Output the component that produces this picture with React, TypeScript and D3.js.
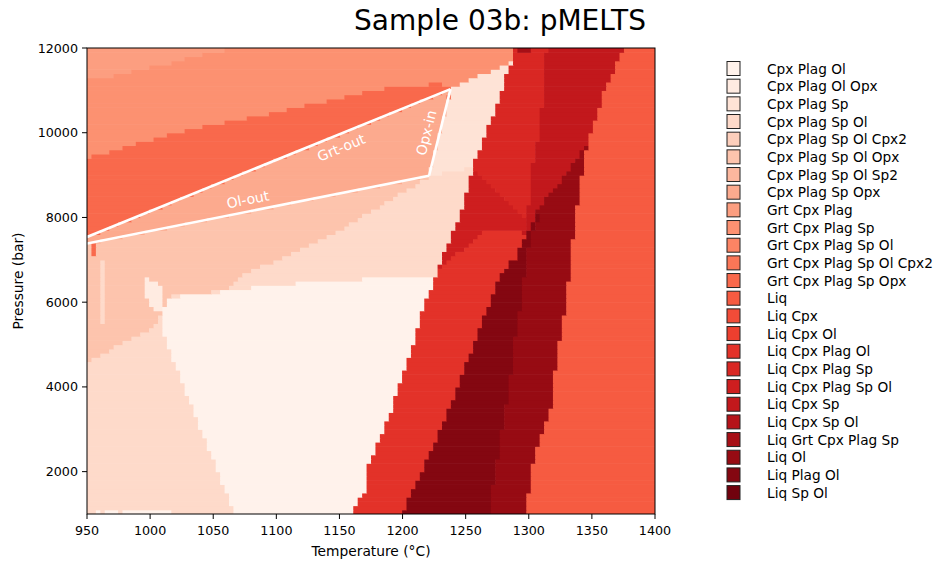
import React, { useMemo } from "react";
import * as d3 from "d3";

// ---------- data ----------
const PHASES = [
  "Cpx Plag Ol", "Cpx Plag Ol Opx", "Cpx Plag Sp", "Cpx Plag Sp Ol", "Cpx Plag Sp Ol Cpx2",
  "Cpx Plag Sp Ol Opx", "Cpx Plag Sp Ol Sp2", "Cpx Plag Sp Opx", "Grt Cpx Plag", "Grt Cpx Plag Sp",
  "Grt Cpx Plag Sp Ol", "Grt Cpx Plag Sp Ol Cpx2", "Grt Cpx Plag Sp Opx", "Liq", "Liq Cpx",
  "Liq Cpx Ol", "Liq Cpx Plag Ol", "Liq Cpx Plag Sp", "Liq Cpx Plag Sp Ol", "Liq Cpx Sp",
  "Liq Cpx Sp Ol", "Liq Grt Cpx Plag Sp", "Liq Ol", "Liq Plag Ol", "Liq Sp Ol",
];

const T_RANGE = [950, 1400];
const P_RANGE = [1000, 12000];
const T_CELLS = 128;
const P_CELL = 100;

const X_TICKS = [950, 1000, 1050, 1100, 1150, 1200, 1250, 1300, 1350, 1400];
const Y_TICKS = [2000, 4000, 6000, 8000, 10000, 12000];

// Phase-field outlines in (T °C, P bar)
const F_BACKGROUND = [[950, 1000], [1400, 1000], [1400, 12000], [950, 12000]];
const F_CPX_PLAG_SP = [[1239, 11056], [1221, 8985], [1300, 9455], [1300, 12000], [1239, 12000]];
const F_GRT_CPX_PLAG_SP = [[950, 12000], [1289, 12000], [1287, 11717], [1277, 11575], [1267, 11433], [1256, 11315], [1245, 11174], [1239, 11056], [1230, 11174], [1194, 11080], [1177, 11009], [1166, 10938], [1150, 10820], [1120, 10631], [1096, 10466], [1071, 10324], [1036, 10112], [1024, 10017], [1011, 9923], [999, 9828], [985, 9710], [960, 9498], [950, 9427]];
const F_GRT_CPX_PLAG = [[950, 12000], [1071, 12000], [1061, 11953], [1037, 11835], [1016, 11646], [992, 11504], [968, 11315], [950, 11245]];
const F_GRT_CPX_PLAG_SP_OPX = [[950, 9427], [960, 9498], [985, 9710], [999, 9828], [1011, 9923], [1024, 10017], [1036, 10112], [1071, 10324], [1096, 10466], [1120, 10631], [1150, 10820], [1166, 10938], [1177, 11009], [1194, 11080], [1230, 11174], [1239, 11056], [1221, 8985], [950, 7385]];
const F_CPX_PLAG_SP_OPX = [[950, 7540], [1238, 11030], [1221, 8985], [950, 7385]];
const F_CPX_PLAG_SP_OL_OPX = [[950, 7385], [1221, 8985], [1220, 8955], [1150, 7704], [1097, 6949], [1077, 6712], [1061, 6290], [1016, 6150], [1008, 5697], [1008, 5532], [998, 5343], [986, 5178], [968, 4871], [950, 4588]];
const F_STREAK = [[960, 5532], [963.5, 5532], [963.5, 7000], [960, 7000]];
const F_SPECK = [[953, 7100], [957, 7100], [957, 7380], [953, 7380]];
const F_CPX_PLAG_OL = [[1008, 5800], [1013, 6000], [1017, 6100], [1037, 6217], [1061, 6264], [1087, 6382], [1116, 6453], [1166, 6547], [1227, 6642], [1240, 6642], [1240, 1000], [1067, 1000], [1009, 5343]];
const F_OL_BITS_A = [[957, 1000], [960, 1000], [960, 1100], [957, 1100]];
const F_OL_BITS_B = [[963.5, 1000], [975, 1000], [975, 1100], [963.5, 1100]];
const F_OL_BITS_C = [[978, 1000], [1017, 1000], [1017, 1100], [978, 1100]];
const F_CPX_PLAG_OL_OPX = [[996, 6571], [1008, 6453], [1009, 6052], [1008, 5815], [998, 5886]];
const F_LIQ_CPX_PLAG_OL = [[1160, 1000], [1166, 1400], [1170, 1500], [1170, 1968], [1177, 2463], [1185, 3006], [1192, 3526], [1199, 4234], [1206, 4753], [1212, 5414], [1219, 6122], [1227, 6642], [1230, 6949], [1234, 7232], [1265, 7680], [1310, 7680], [1310, 1000]];
const F_LIQ_CPX_SP = [[1290, 12000], [1400, 12000], [1400, 7600], [1296, 7600]];
const F_LIQ_PLAG_OL = [[1200, 1000], [1204, 1378], [1212, 1802], [1219, 2275], [1227, 2794], [1234, 3290], [1242, 3856], [1248, 4399], [1255, 4871], [1261, 5414], [1268, 5886], [1273, 6358], [1280, 6760], [1287, 6996], [1291, 7090], [1295, 7468], [1299, 7633], [1303, 7869], [1307, 8058], [1310, 8129], [1330, 8129], [1330, 1000]];
const F_LIQ_OL = [[1269, 1000], [1272, 1802], [1276, 2440], [1280, 3219], [1284, 3856], [1287, 4635], [1290, 5343], [1295, 6122], [1297, 6878], [1301, 7421], [1305, 7869], [1308, 8000], [1306, 8176], [1314, 8483], [1325, 8813], [1335, 9285], [1346, 9757], [1400, 9757], [1400, 1000]];
const F_LIQ_CPX_PLAG_SP_OL = [[1255, 9140], [1248, 8247], [1240, 7704], [1234, 7232], [1228, 6780], [1265, 7680], [1296, 7680], [1300, 7900]];
const F_LIQ_CPX_PLAG_SP = [[1289, 12000], [1314, 12000], [1309, 10064], [1303, 9285], [1301, 8648], [1299, 8058], [1297, 7940], [1255, 9167], [1263, 9781], [1269, 10253], [1277, 10820], [1283, 11433], [1287, 11717]];
const F_LIQ = [[1297, 1000], [1304, 2322], [1311, 2912], [1318, 3526], [1322, 4706], [1326, 5343], [1330, 6099], [1334, 7232], [1340, 8648], [1346, 9710], [1354, 10467], [1362, 11174], [1370, 11646], [1375, 12000], [1400, 12000], [1400, 1000]];
const F_LIQ_GRT_SLIVER = [[1290, 11880], [1302, 11880], [1302, 12000], [1290, 12000]];

// painted in order, later fields on top
const FIELDS: [string, number[][]][] = [
  ["Cpx Plag Sp Ol", F_BACKGROUND],
  ["Cpx Plag Sp", F_CPX_PLAG_SP],
  ["Grt Cpx Plag Sp", F_GRT_CPX_PLAG_SP],
  ["Grt Cpx Plag", F_GRT_CPX_PLAG],
  ["Grt Cpx Plag Sp Opx", F_GRT_CPX_PLAG_SP_OPX],
  ["Cpx Plag Sp Opx", F_CPX_PLAG_SP_OPX],
  ["Cpx Plag Sp Ol Opx", F_CPX_PLAG_SP_OL_OPX],
  ["Cpx Plag Sp Ol", F_STREAK],
  ["Grt Cpx Plag Sp Opx", F_SPECK],
  ["Cpx Plag Ol", F_CPX_PLAG_OL],
  ["Cpx Plag Ol", F_OL_BITS_A],
  ["Cpx Plag Ol", F_OL_BITS_B],
  ["Cpx Plag Ol", F_OL_BITS_C],
  ["Cpx Plag Ol Opx", F_CPX_PLAG_OL_OPX],
  ["Liq Cpx Plag Ol", F_LIQ_CPX_PLAG_OL],
  ["Liq Cpx Sp", F_LIQ_CPX_SP],
  ["Liq Plag Ol", F_LIQ_PLAG_OL],
  ["Liq Ol", F_LIQ_OL],
  ["Liq Cpx Plag Sp Ol", F_LIQ_CPX_PLAG_SP_OL],
  ["Liq Cpx Plag Sp", F_LIQ_CPX_PLAG_SP],
  ["Liq", F_LIQ],
  ["Liq Grt Cpx Plag Sp", F_LIQ_GRT_SLIVER],
];

// reaction lines
const GRT_OUT = [[950, 7540], [1238, 11030]];
const OL_OUT = [[950, 7385], [1221, 8985]];
const OPX_IN = [[1221, 8985], [1238, 11030]];

// ---------- layout ----------
const W = 940;
const H = 563;
const PL = 87, PR = 655, PT = 48, PB = 514;
const FONT = "DejaVu Sans, Verdana, sans-serif";

const color = (name: string) => {
  const i = PHASES.indexOf(name);
  return d3.interpolateReds((i + 0.5) / PHASES.length);
};

export default function App() {
  const xs = d3.scaleLinear().domain(T_RANGE).range([PL, PR]);
  const ys = d3.scaleLinear().domain(P_RANGE).range([PB, PT]);

  const cells = useMemo(() => {
    const out: { x: number; y: number; w: number; h: number; c: string }[] = [];
    const dT = (T_RANGE[1] - T_RANGE[0]) / T_CELLS;
    const nP = Math.round((P_RANGE[1] - P_RANGE[0]) / P_CELL);
    const classify = (t: number, p: number) => {
      for (let k = FIELDS.length - 1; k >= 0; k--) {
        if (d3.polygonContains(FIELDS[k][1] as [number, number][], [t, p])) return FIELDS[k][0];
      }
      return FIELDS[0][0];
    };
    for (let j = 0; j < nP; j++) {
      const p0 = P_RANGE[0] + j * P_CELL;
      const pc = p0 + P_CELL / 2;
      let start = 0;
      let cur = classify(T_RANGE[0] + dT / 2, pc);
      for (let i = 1; i <= T_CELLS; i++) {
        const ph = i < T_CELLS ? classify(T_RANGE[0] + (i + 0.5) * dT, pc) : null;
        if (ph !== cur) {
          const x0 = xs(T_RANGE[0] + start * dT);
          const x1 = xs(T_RANGE[0] + i * dT);
          const y0 = ys(p0 + P_CELL);
          const y1 = ys(p0);
          out.push({ x: x0, y: y0, w: x1 - x0 + 0.6, h: y1 - y0 + 0.6, c: color(cur as string) });
          start = i;
          cur = ph as string;
        }
      }
    }
    return out;
  }, []);

  const line = (pts: number[][]) => pts.map((p) => [xs(p[0]), ys(p[1])]);
  const lineLabel = (pts: number[][], frac: number, off: number) => {
    const [a, b] = line(pts);
    const dx = b[0] - a[0], dy = b[1] - a[1];
    const len = Math.hypot(dx, dy);
    const nx = -dy / len, ny = dx / len;
    const px = a[0] + dx * frac + nx * off;
    const py = a[1] + dy * frac + ny * off;
    const ang = (Math.atan2(dy, dx) * 180) / Math.PI;
    return { px, py, ang };
  };
  const lbls = [
    { text: "Grt-out", ...lineLabel(GRT_OUT, 0.686, 13) },
    { text: "Ol-out", ...lineLabel(OL_OUT, 0.477, -12) },
    { text: "Opx-in", ...lineLabel([OPX_IN[0], OPX_IN[1]], 0.46, -13) },
  ];

  const legendY0 = 68.5;
  const legendDy = 17.67;

  return (
    <svg width={W} height={H} style={{ position: "absolute", left: 0, top: 0, background: "#fff" }} fontFamily={FONT}>
      <defs>
        <clipPath id="plotclip">
          <rect x={PL} y={PT} width={PR - PL} height={PB - PT} />
        </clipPath>
      </defs>
      <g clipPath="url(#plotclip)">
        {cells.map((c, k) => (
          <rect key={k} x={c.x} y={c.y} width={c.w} height={c.h} fill={c.c} />
        ))}
        {[GRT_OUT, OL_OUT, OPX_IN].map((l, k) => {
          const p = line(l);
          return <line key={k} x1={p[0][0]} y1={p[0][1]} x2={p[1][0]} y2={p[1][1]} stroke="#fff" strokeWidth={2.6} />;
        })}
        {lbls.map((l, k) => (
          <text key={k} x={l.px} y={l.py} transform={`rotate(${l.ang},${l.px},${l.py})`} textAnchor="middle" dominantBaseline="central" fill="#fff" fontSize={14}>
            {l.text}
          </text>
        ))}
      </g>
      <rect x={PL} y={PT} width={PR - PL} height={PB - PT} fill="none" stroke="#000" strokeWidth={1} />
      {X_TICKS.map((t) => (
        <g key={t}>
          <line x1={xs(t)} x2={xs(t)} y1={PB} y2={PB + 5} stroke="#000" />
          <text x={xs(t)} y={535} textAnchor="middle" fontSize={12.7}>{t}</text>
        </g>
      ))}
      {Y_TICKS.map((p) => (
        <g key={p}>
          <line x1={PL - 5} x2={PL} y1={ys(p)} y2={ys(p)} stroke="#000" />
          <text x={PL - 9} y={ys(p)} textAnchor="end" dominantBaseline="central" fontSize={12.7}>{p}</text>
        </g>
      ))}
      <text x={(PL + PR) / 2} y={556} textAnchor="middle" fontSize={13.8}>Temperature (°C)</text>
      <text x={18} y={(PT + PB) / 2} transform={`rotate(-90,18,${(PT + PB) / 2})`} textAnchor="middle" dominantBaseline="central" fontSize={13.8}>Pressure (bar)</text>
      <text x={500} y={30} textAnchor="middle" fontSize={28}>Sample 03b: pMELTS</text>
      {PHASES.map((ph, i) => {
        const cy = legendY0 + i * legendDy;
        return (
          <g key={ph}>
            <rect x={727} y={cy - 7} width={13} height={14} fill={color(ph)} stroke="#222" strokeWidth={1} />
            <text x={767} y={cy} dominantBaseline="central" fontSize={13.7}>{ph}</text>
          </g>
        );
      })}
    </svg>
  );
}
